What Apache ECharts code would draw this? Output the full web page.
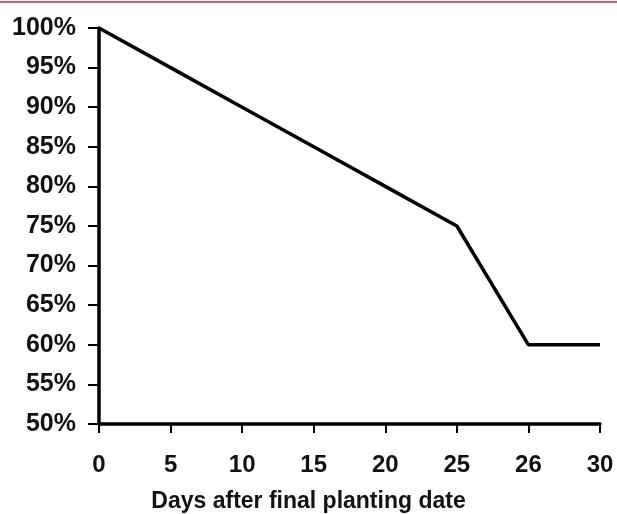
<!DOCTYPE html>
<html><head><meta charset="utf-8">
<script src="https://cdn.jsdelivr.net/npm/echarts@6/dist/echarts.min.js"></script>
<style>html,body{margin:0;padding:0;background:#fff}#c{width:617px;height:514px}</style>
</head><body><div id="c"></div>
<script>
const days = ["0","5","10","15","20","25","26","30"];
const survival = [100,95,90,85,80,75,60,60];
const yMin = 50, yMax = 100, yStep = 5;
const xTitle = "Days after final planting date";

const FONT = 'Liberation Sans, Arial, sans-serif';
const chart = echarts.init(document.getElementById('c'), null, {renderer:'canvas'});
chart.setOption({
  animation:false,
  graphic:[{type:'line',shape:{x1:0,y1:2,x2:617,y2:2},style:{stroke:'#d9646a',lineWidth:2}}],
  title:{text:xTitle,left:'center',top:490,padding:0,
    textStyle:{fontFamily:FONT,fontWeight:'bold',fontSize:23,color:'#111'}},
  grid:{left:99,right:17,top:28,bottom:90,containLabel:false},
  xAxis:{type:'category',data:days,boundaryGap:false,
    axisLine:{lineStyle:{color:'#000',width:3.5}},
    axisTick:{show:true,length:9,alignWithLabel:true,lineStyle:{color:'#000',width:2}},
    axisLabel:{margin:29,fontFamily:FONT,fontWeight:'bold',fontSize:24,color:'#111'},
    splitLine:{show:false}},
  yAxis:{type:'value',min:yMin,max:yMax,interval:yStep,
    axisLine:{show:true,lineStyle:{color:'#000',width:3.5}},
    axisTick:{show:true,length:11,lineStyle:{color:'#000',width:2}},
    axisLabel:{margin:23,formatter:'{value}%',fontFamily:FONT,fontWeight:'bold',fontSize:25,color:'#111'},
    splitLine:{show:false}},
  series:[{type:'line',data:survival,symbol:'none',lineStyle:{color:'#000',width:3.5}}]
});
</script></body></html>
